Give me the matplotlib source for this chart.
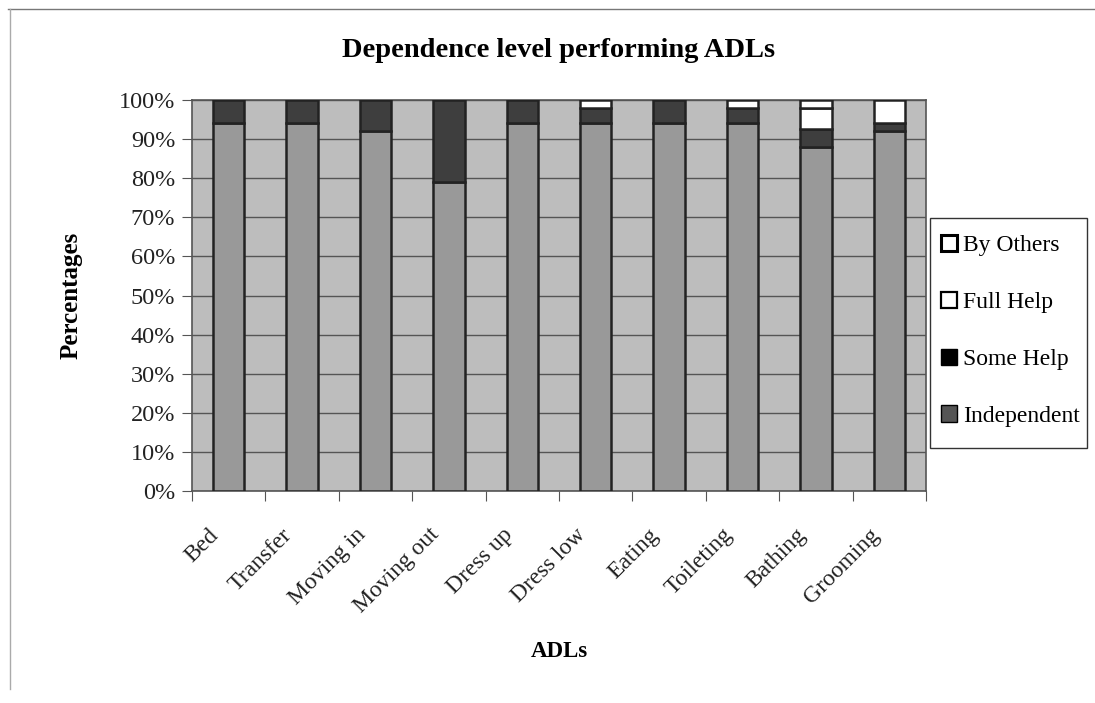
import numpy as np
import matplotlib as mpl
import matplotlib.pyplot as plt
from matplotlib.patches import Patch, Rectangle
from matplotlib.lines import Line2D

adls = ['Bed', 'Transfer', 'Moving in', 'Moving out', 'Dress up',
        'Dress low', 'Eating', 'Toileting', 'Bathing', 'Grooming']
independent = [94, 94, 92, 79, 94, 94, 94, 94, 88, 92]
some_help = [6, 6, 8, 21, 6, 4, 6, 4, 4.5, 2]
full_help = [0, 0, 0, 0, 0, 2, 0, 2, 5.5, 6]
by_others = [0, 0, 0, 0, 0, 0, 0, 0, 2, 0]
yticks = [0, 10, 20, 30, 40, 50, 60, 70, 80, 90, 100]

plt.rcParams['font.family'] = ['Liberation Serif', 'DejaVu Serif']

W, H = 1095, 703
fig = plt.figure(figsize=(W/100, H/100), dpi=100)
ax = fig.add_axes([192/W, 1 - 491/H, 734/W, 391/H])
ax.set_facecolor('#bdbdbd')

# thin page border lines like the scanned original
fig.add_artist(Line2D([8/W, 1], [1 - 9/H, 1 - 9/H], color='#777777', lw=1.0))
fig.add_artist(Line2D([10/W, 10/W], [0.02, 1 - 9/H], color='#aaaaaa', lw=1.0))

x = np.arange(len(adls))
w = 0.43
ind = np.array(independent, float)
sh = np.array(some_help, float)
fh = np.array(full_help, float)
bo = np.array(by_others, float)

kw = dict(width=w, edgecolor='#222222', linewidth=1.8, zorder=3)
b1 = ax.bar(x, ind, color='#999999', **kw)
b2 = ax.bar(x, sh, bottom=ind, color='#3e3e3e', **kw)
b3 = ax.bar(x, fh, bottom=ind + sh, color='white', **kw)
b4 = ax.bar(x, bo, bottom=ind + sh + fh, color='white', **kw)
# hide zero-height outlines
for bars, vals in ((b2, sh), (b3, fh), (b4, bo)):
    for r, v in zip(bars, vals):
        if v == 0:
            r.set_visible(False)

ax.set_xlim(-0.5, len(adls) - 0.5)
ax.set_ylim(0, 100)
ax.set_yticks(yticks)
ax.set_yticklabels(['%d%%' % v for v in yticks], fontsize=17.5, color='#222222')
ax.yaxis.grid(True, color='#555555', linewidth=1.0, zorder=1)
ax.set_axisbelow(True)

ax.set_xticks(np.arange(len(adls) + 1) - 0.5, minor=False)
ax.set_xticklabels([])
# labels anchored left of bar centre, as in the original
ax.set_xticks(x - 0.28, minor=True)
ax.set_xticklabels(adls, minor=True, rotation=45, ha='right',
                   rotation_mode='anchor', fontsize=17, color='#222222')
ax.tick_params(axis='x', which='minor', length=0, pad=24)
ax.tick_params(axis='x', which='major', length=7, color='#555555')
ax.tick_params(axis='y', length=7, color='#555555', pad=5)
for s in ax.spines.values():
    s.set_color('#555555')
    s.set_linewidth(1.2)

ax.set_title('Dependence level performing ADLs', fontsize=20.5,
             fontweight='bold', pad=31)
ax.set_ylabel('Percentages', fontsize=18, fontweight='bold', labelpad=26)
ax.set_xlabel('ADLs', fontsize=16.5, fontweight='bold', labelpad=17)

handles = [Patch(facecolor='white', edgecolor='black', linewidth=2.2),
           Patch(facecolor='white', edgecolor='black', linewidth=1.6),
           Patch(facecolor='black', edgecolor='black'),
           Patch(facecolor='#555555', edgecolor='black', linewidth=1.0)]
fig.add_artist(Rectangle((930/W, 1 - 448/H), 157/W, 230/H, transform=fig.transFigure,
                         facecolor='white', edgecolor='#333333', linewidth=1.0))
leg = fig.legend(handles, ['By Others', 'Full Help', 'Some Help', 'Independent'],
                 loc='upper left', bbox_to_anchor=(930/W, 1 - 224/H),
                 fontsize=17, frameon=False,
                 handlelength=0.7, handleheight=0.7, handletextpad=0.25,
                 labelspacing=1.5, borderpad=0.45, borderaxespad=0)

fig.savefig('out.png', dpi=100)
